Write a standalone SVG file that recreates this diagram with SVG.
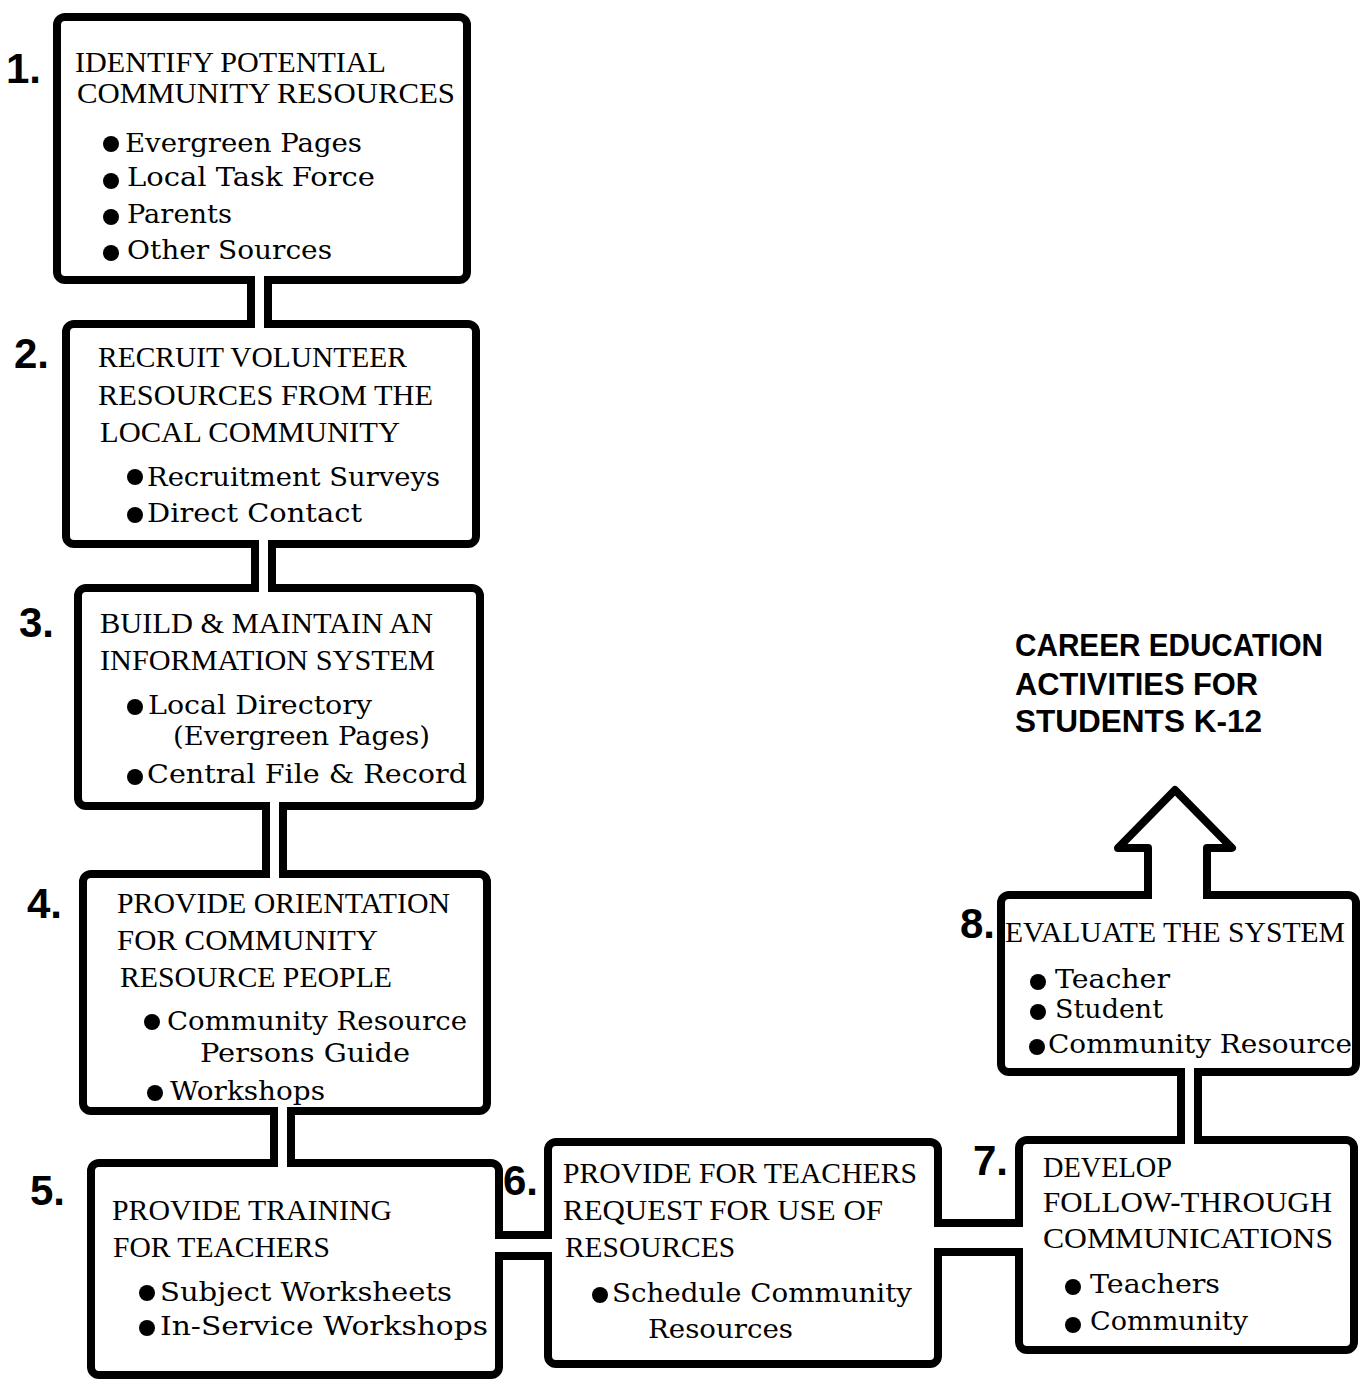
<svg xmlns="http://www.w3.org/2000/svg" width="1363" height="1381" viewBox="0 0 1363 1381">
<style>
.bg{fill:#fff}
.box{fill:#fff;stroke:#000;stroke-width:8;stroke-linejoin:round}
.pipe{fill:none;stroke:#000;stroke-width:8;stroke-linejoin:round}
.gap{fill:#fff}
.h{font-family:"Liberation Serif","Times New Roman",serif;font-size:30px;fill:#000}
.i{font-family:"DejaVu Serif","Liberation Serif",serif;font-size:26px;fill:#000}
.n{font-family:"Liberation Sans",Arial,sans-serif;font-size:42px;font-weight:bold;fill:#000}
.t{font-family:"Liberation Sans",Arial,sans-serif;font-size:32px;font-weight:bold;fill:#000}
.dot{fill:#000}
</style>
<rect class="bg" x="0" y="0" width="1363" height="1381"/>

<g id="node1">
<rect class="box" x="57" y="17" width="410" height="263" rx="8"/>
<text class="n" x="6" y="83">1.</text>
<text class="h" x="75" y="72" textLength="311" lengthAdjust="spacingAndGlyphs">IDENTIFY POTENTIAL</text>
<text class="h" x="77" y="103" textLength="378" lengthAdjust="spacingAndGlyphs">COMMUNITY RESOURCES</text>
<circle class="dot" cx="111" cy="144" r="8"/>
<text class="i" x="125" y="152" textLength="237" lengthAdjust="spacingAndGlyphs">Evergreen Pages</text>
<circle class="dot" cx="111" cy="181" r="8"/>
<text class="i" x="127" y="186" textLength="248" lengthAdjust="spacingAndGlyphs">Local Task Force</text>
<circle class="dot" cx="111" cy="217" r="8"/>
<text class="i" x="127" y="223" textLength="105" lengthAdjust="spacingAndGlyphs">Parents</text>
<circle class="dot" cx="111" cy="253" r="8"/>
<text class="i" x="127" y="259" textLength="205" lengthAdjust="spacingAndGlyphs">Other Sources</text>
</g>

<g id="node2">
<rect class="box" x="66" y="324" width="410" height="220" rx="8"/>
<text class="n" x="14" y="368">2.</text>
<text class="h" x="98" y="367" textLength="309" lengthAdjust="spacingAndGlyphs">RECRUIT VOLUNTEER</text>
<text class="h" x="98" y="405" textLength="335" lengthAdjust="spacingAndGlyphs">RESOURCES FROM THE</text>
<text class="h" x="100" y="442" textLength="300" lengthAdjust="spacingAndGlyphs">LOCAL COMMUNITY</text>
<circle class="dot" cx="135" cy="477" r="8"/>
<text class="i" x="147" y="486" textLength="293" lengthAdjust="spacingAndGlyphs">Recruitment Surveys</text>
<circle class="dot" cx="135" cy="515" r="8"/>
<text class="i" x="147" y="522" textLength="215" lengthAdjust="spacingAndGlyphs">Direct Contact</text>
</g>

<g id="node3">
<rect class="box" x="78" y="588" width="402" height="218" rx="8"/>
<text class="n" x="19" y="637">3.</text>
<text class="h" x="100" y="633" textLength="333" lengthAdjust="spacingAndGlyphs">BUILD &amp; MAINTAIN AN</text>
<text class="h" x="100" y="670" textLength="335" lengthAdjust="spacingAndGlyphs">INFORMATION SYSTEM</text>
<circle class="dot" cx="135" cy="707" r="8"/>
<text class="i" x="148" y="714" textLength="224" lengthAdjust="spacingAndGlyphs">Local Directory</text>
<text class="i" x="173" y="745" textLength="257" lengthAdjust="spacingAndGlyphs">(Evergreen Pages)</text>
<circle class="dot" cx="135" cy="777" r="8"/>
<text class="i" x="147" y="783" textLength="320" lengthAdjust="spacingAndGlyphs">Central File &amp; Record</text>
</g>

<g id="node4">
<rect class="box" x="83" y="874" width="404" height="237" rx="8"/>
<text class="n" x="27" y="918">4.</text>
<text class="h" x="117" y="913" textLength="333" lengthAdjust="spacingAndGlyphs">PROVIDE ORIENTATION</text>
<text class="h" x="117" y="950" textLength="261" lengthAdjust="spacingAndGlyphs">FOR COMMUNITY</text>
<text class="h" x="120" y="987" textLength="272" lengthAdjust="spacingAndGlyphs">RESOURCE PEOPLE</text>
<circle class="dot" cx="152" cy="1022" r="8"/>
<text class="i" x="167" y="1030" textLength="300" lengthAdjust="spacingAndGlyphs">Community Resource</text>
<text class="i" x="200" y="1062" textLength="210" lengthAdjust="spacingAndGlyphs">Persons Guide</text>
<circle class="dot" cx="155" cy="1093" r="8"/>
<text class="i" x="170" y="1100" textLength="155" lengthAdjust="spacingAndGlyphs">Workshops</text>
</g>

<g id="node5">
<rect class="box" x="91" y="1163" width="408" height="212" rx="8"/>
<text class="n" x="30" y="1205">5.</text>
<text class="h" x="112" y="1220" textLength="280" lengthAdjust="spacingAndGlyphs">PROVIDE TRAINING</text>
<text class="h" x="113" y="1257" textLength="217" lengthAdjust="spacingAndGlyphs">FOR TEACHERS</text>
<circle class="dot" cx="147" cy="1293" r="8"/>
<text class="i" x="160" y="1301" textLength="292" lengthAdjust="spacingAndGlyphs">Subject Worksheets</text>
<circle class="dot" cx="147" cy="1328" r="8"/>
<text class="i" x="160" y="1335" textLength="328" lengthAdjust="spacingAndGlyphs">In-Service Workshops</text>
</g>

<g id="node6">
<rect class="box" x="548" y="1142" width="390" height="222" rx="8"/>
<text class="n" x="503" y="1195">6.</text>
<text class="h" x="563" y="1183" textLength="354" lengthAdjust="spacingAndGlyphs">PROVIDE FOR TEACHERS</text>
<text class="h" x="563" y="1220" textLength="320" lengthAdjust="spacingAndGlyphs">REQUEST FOR USE OF</text>
<text class="h" x="565" y="1257" textLength="170" lengthAdjust="spacingAndGlyphs">RESOURCES</text>
<circle class="dot" cx="600" cy="1295" r="8"/>
<text class="i" x="612" y="1302" textLength="300" lengthAdjust="spacingAndGlyphs">Schedule Community</text>
<text class="i" x="648" y="1338" textLength="145" lengthAdjust="spacingAndGlyphs">Resources</text>
</g>

<g id="node7">
<rect class="box" x="1019" y="1140" width="335" height="210" rx="8"/>
<text class="n" x="973" y="1175">7.</text>
<text class="h" x="1043" y="1177" textLength="129" lengthAdjust="spacingAndGlyphs">DEVELOP</text>
<text class="h" x="1043" y="1212" textLength="289" lengthAdjust="spacingAndGlyphs">FOLLOW-THROUGH</text>
<text class="h" x="1043" y="1248" textLength="290" lengthAdjust="spacingAndGlyphs">COMMUNICATIONS</text>
<circle class="dot" cx="1073" cy="1287" r="8"/>
<text class="i" x="1090" y="1293" textLength="130" lengthAdjust="spacingAndGlyphs">Teachers</text>
<circle class="dot" cx="1073" cy="1325" r="8"/>
<text class="i" x="1090" y="1330" textLength="158" lengthAdjust="spacingAndGlyphs">Community</text>
</g>

<g id="node8">
<rect class="box" x="1001" y="895" width="355" height="177" rx="8"/>
<text class="n" x="960" y="938">8.</text>
<text class="h" x="1005" y="942" textLength="340" lengthAdjust="spacingAndGlyphs">EVALUATE THE SYSTEM</text>
<circle class="dot" cx="1038" cy="982" r="8"/>
<text class="i" x="1055" y="988" textLength="115" lengthAdjust="spacingAndGlyphs">Teacher</text>
<circle class="dot" cx="1038" cy="1012" r="8"/>
<text class="i" x="1055" y="1018" textLength="108" lengthAdjust="spacingAndGlyphs">Student</text>
<circle class="dot" cx="1037" cy="1047" r="8"/>
<text class="i" x="1048" y="1053" textLength="304" lengthAdjust="spacingAndGlyphs">Community Resource</text>
</g>

<g id="goal">
<text class="t" x="1015" y="656" textLength="308" lengthAdjust="spacingAndGlyphs">CAREER EDUCATION</text>
<text class="t" x="1015" y="695" textLength="243" lengthAdjust="spacingAndGlyphs">ACTIVITIES FOR</text>
<text class="t" x="1015" y="732" textLength="247" lengthAdjust="spacingAndGlyphs">STUDENTS K-12</text>
</g>

<g id="connectors">
<rect class="gap" x="255" y="274" width="9" height="56"/>
<path class="pipe" d="M251 278 V326 M268 278 V326"/>
<rect class="gap" x="259" y="539" width="9" height="54"/>
<path class="pipe" d="M255 542 V590 M272 542 V590"/>
<rect class="gap" x="270" y="801" width="9" height="78"/>
<path class="pipe" d="M266 804 V876 M283 804 V876"/>
<rect class="gap" x="278" y="1106" width="9" height="62"/>
<path class="pipe" d="M274 1109 V1165 M291 1109 V1165"/>
<rect class="gap" x="494" y="1239" width="59" height="13"/>
<path class="pipe" d="M497 1235 H550 M497 1256 H550"/>
<rect class="gap" x="933" y="1227" width="91" height="21"/>
<path class="pipe" d="M936 1223 H1021 M936 1252 H1021"/>
<rect class="gap" x="1185" y="1067" width="9" height="78"/>
<path class="pipe" d="M1181 1070 V1142 M1198 1070 V1142"/>
<rect class="gap" x="1152" y="889" width="51" height="12"/>
<path class="pipe" d="M1148 897 V848 H1118 L1175 790 L1232 848 H1207 V897" stroke-linejoin="miter"/>
</g>
</svg>
